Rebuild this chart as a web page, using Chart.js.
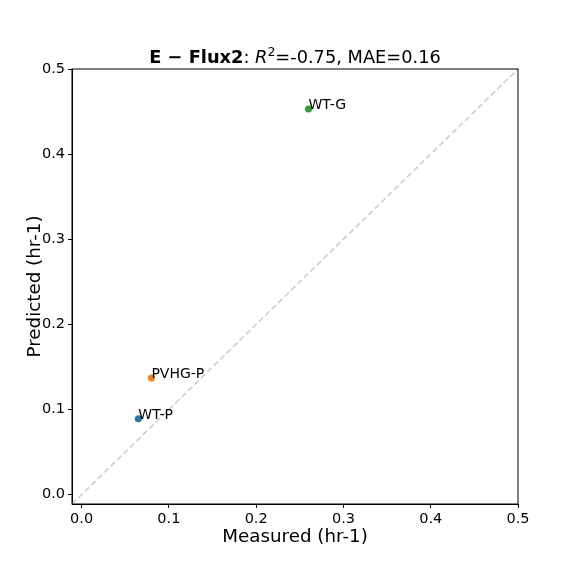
<!DOCTYPE html>
<html>
<head>
<meta charset="utf-8">
<script src="https://cdn.jsdelivr.net/npm/chart.js@4/dist/chart.umd.min.js"></script>
<style>
  html, body { margin: 0; padding: 0; background: #fff; }
  #wrap { width: 576px; height: 576px; }
</style>
</head>
<body>
<div id="wrap"><canvas id="chart" width="576" height="576"></canvas></div>
<script>
// Data
const sampleNames = ["WT-P", "PVHG-P", "WT-G"];
const measured = [0.065, 0.080, 0.260];
const predicted = [0.089, 0.137, 0.453];
const pointColors = ["#1f77b4", "#ff7f0e", "#2ca02c"];

const diagX = [-0.011, 0.5];
const diagY = [-0.011, 0.5];

const xTicks = [0.0, 0.1, 0.2, 0.3, 0.4, 0.5];
const yTicks = [0.0, 0.1, 0.2, 0.3, 0.4, 0.5];

const FONT = "'DejaVu Sans', sans-serif";

// Title: bold "E − Flux2", then ": R²=-0.75, MAE=0.16"
const titleParts = [
    { text: "E − Flux2", style: "bold", size: 17.8 },
    { text: ": ", style: "", size: 17.8 },
    { text: "R", style: "italic", size: 17.8 },
    { text: "2", style: "", size: 12.5, sup: true },
    { text: "=-0.75, MAE=0.16", style: "", size: 17.8 },
];

const framePlugin = {
    id: "frame",
    afterDraw(chart) {
        const ctx = chart.ctx;
        const a = chart.chartArea;
        ctx.save();
        ctx.strokeStyle = "#000";
        ctx.lineWidth = 1;
        ctx.strokeRect(a.left, a.top, a.right - a.left, a.bottom - a.top);

        // point labels
        ctx.fillStyle = "#000";
        ctx.font = "14px " + FONT;
        ctx.textAlign = "left";
        ctx.textBaseline = "alphabetic";
        const xs = chart.scales.x, ys = chart.scales.y;
        sampleNames.forEach((name, i) => {
            ctx.fillText(name, xs.getPixelForValue(measured[i]), ys.getPixelForValue(predicted[i]));
        });

        // title
        let total = 0;
        titleParts.forEach((p) => {
            ctx.font = p.style + " " + p.size + "px " + FONT;
            p.w = ctx.measureText(p.text).width;
            total += p.w;
        });
        let x = (a.left + a.right) / 2 - total / 2;
        const base = 63;
        titleParts.forEach((p) => {
            ctx.font = p.style + " " + p.size + "px " + FONT;
            ctx.fillText(p.text, x, p.sup ? base - 7.5 : base);
            x += p.w;
        });
        ctx.restore();
    },
};

const scatterSets = sampleNames.map((name, i) => ({
    label: name,
    type: "scatter",
    data: [{ x: measured[i], y: predicted[i] }],
    backgroundColor: pointColors[i],
    borderColor: pointColors[i],
    pointRadius: 3.5,
    pointBorderWidth: 0,
}));

new Chart(document.getElementById("chart").getContext("2d"), {
    type: "scatter",
    data: {
        datasets: [
            {
                label: "diag",
                type: "line",
                data: diagX.map((v, i) => ({ x: v, y: diagY[i] })),
                borderColor: "#cccccc",
                borderWidth: 1.5,
                borderDash: [6, 3],
                pointRadius: 0,
                fill: false,
            },
            ...scatterSets,
        ],
    },
    options: {
        responsive: false,
        animation: false,
        devicePixelRatio: 1,
        layout: { padding: { top: 69, right: 58, left: 0, bottom: 0 } },
        plugins: {
            legend: { display: false },
            title: { display: false },
            tooltip: { enabled: false },
        },
        scales: {
            x: {
                type: "linear",
                min: -0.011,
                max: 0.5,
                afterBuildTicks: (s) => { s.ticks = xTicks.map((v) => ({ value: v })); },
                afterFit: (s) => { s.height = 72; },
                grid: { display: true, drawOnChartArea: false, drawTicks: true, tickLength: 4, color: "#000", tickWidth: 1 },
                border: { display: true, color: "#000", width: 1 },
                ticks: {
                    color: "#000",
                    padding: 3,
                    maxRotation: 0,
                    font: { family: FONT, size: 14.5 },
                    callback: (v) => Number(v).toFixed(1),
                },
                title: {
                    display: true,
                    text: "Measured (hr-1)",
                    color: "#000",
                    font: { family: FONT, size: 18.3 },
                    padding: { top: 0, bottom: 28 },
                },
            },
            y: {
                type: "linear",
                min: -0.011,
                max: 0.5,
                afterBuildTicks: (s) => { s.ticks = yTicks.map((v) => ({ value: v })); },
                afterFit: (s) => { s.width = 72; },
                grid: { display: true, drawOnChartArea: false, drawTicks: true, tickLength: 4, color: "#000", tickWidth: 1 },
                border: { display: true, color: "#000", width: 1 },
                ticks: {
                    color: "#000",
                    padding: 3,
                    font: { family: FONT, size: 14.5 },
                    callback: (v) => Number(v).toFixed(1),
                },
                title: {
                    display: true,
                    text: "Predicted (hr-1)",
                    color: "#000",
                    font: { family: FONT, size: 18.3 },
                    padding: { top: 24, bottom: 0 },
                },
            },
        },
    },
    plugins: [framePlugin],
});
</script>
</body>
</html>
